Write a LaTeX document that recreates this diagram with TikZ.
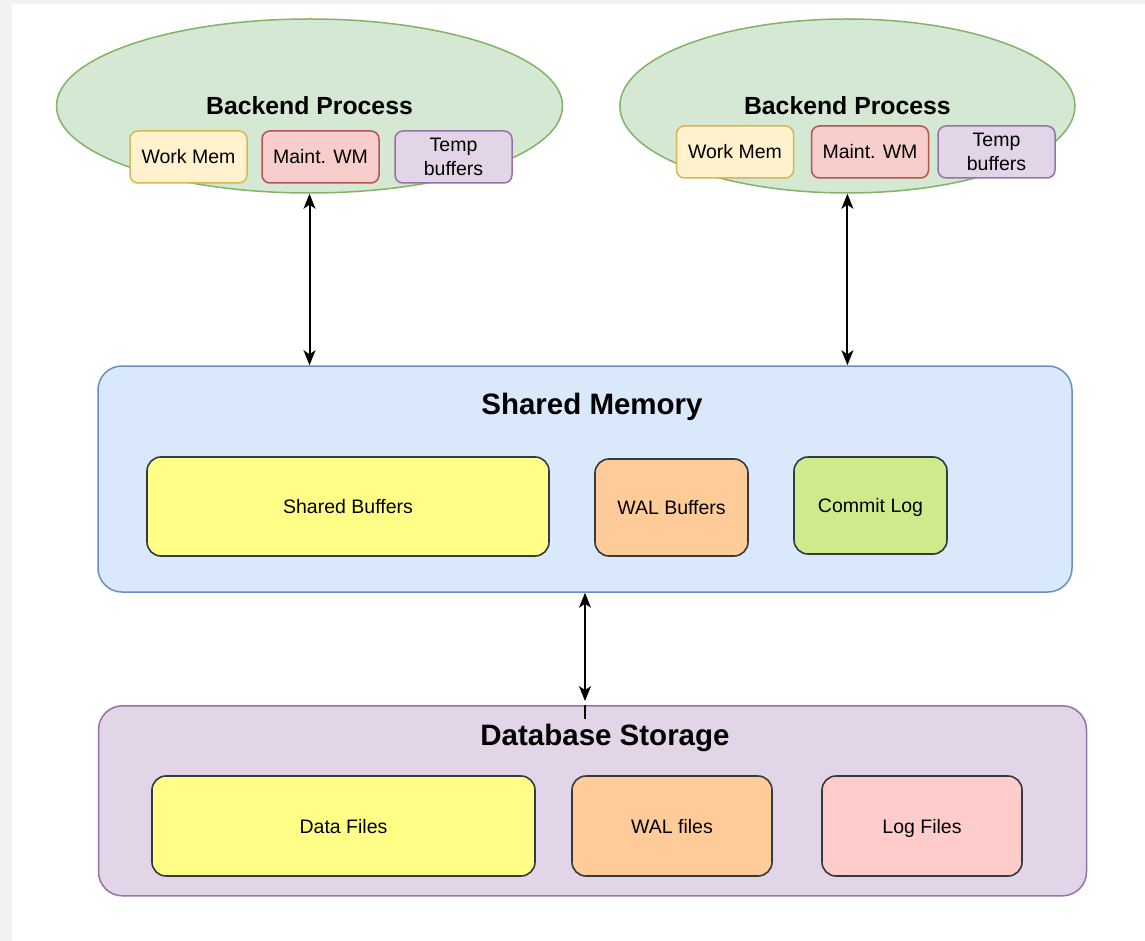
\documentclass[tikz,border=0pt]{standalone}
\usepackage{fontspec}
\setmainfont{Liberation Sans}
\usetikzlibrary{shapes.geometric,arrows.meta}

\definecolor{pagegray}{HTML}{F1F3F3}
\definecolor{procfill}{HTML}{D5E8D4}
\definecolor{procline}{HTML}{82B366}
\definecolor{wmfill}{HTML}{FFF2CC}
\definecolor{wmline}{HTML}{D6B656}
\definecolor{mwfill}{HTML}{F8CECC}
\definecolor{mwline}{HTML}{B85450}
\definecolor{tbfill}{HTML}{E1D5E7}
\definecolor{tbline}{HTML}{9673A6}
\definecolor{smfill}{HTML}{DAE8FC}
\definecolor{smline}{HTML}{6C8EBF}
\definecolor{dsfill}{HTML}{E1D5E7}
\definecolor{dsline}{HTML}{9673A6}
\definecolor{yelfill}{HTML}{FFFF88}
\definecolor{orgfill}{HTML}{FFCC99}
\definecolor{grnfill}{HTML}{CDEB8B}
\definecolor{pnkfill}{HTML}{FFCCCC}
\definecolor{darkline}{HTML}{36393D}

\tikzset{
  proc/.style={ellipse, draw=procline, fill=procfill, line width=1.5pt,
    inner sep=0pt, text height=17.8pt, text depth=0pt,
    font=\bfseries\fontsize{24.8}{30}\selectfont},
  smallbox/.style={rectangle, rounded corners=8pt, line width=1.5pt,
    inner sep=0pt, minimum width=117pt, minimum height=52pt,
    font=\fontsize{19.5}{23.5}\selectfont},
  onelabel/.style={text height=14pt, text depth=0pt},
  region/.style={rectangle, rounded corners=24pt, line width=1.5pt, inner sep=0pt},
  part/.style={rectangle, rounded corners=14pt, draw=darkline, line width=1.6pt,
    inner sep=0pt, text height=14pt, text depth=0pt,
    font=\fontsize{19.5}{23.5}\selectfont},
  heading/.style={anchor=base, inner sep=0pt,
    font=\bfseries\fontsize{29.5}{35}\selectfont},
  link/.style={{Stealth[length=15pt,width=12pt,inset=4pt]}-{Stealth[length=15pt,width=12pt,inset=4pt]}, black}
}

\begin{document}
\begin{tikzpicture}[x=1pt,y=-1pt]
  % page background with its grey frame strip
  \fill[pagegray] (0,0) rectangle (1145,941);
  \fill[white] (12,4) rectangle (1145,941);
  \useasboundingbox (0,0) rectangle (1145,941);

  % left backend process
  \node[proc, minimum width=506pt, minimum height=174pt] (lp) at (309.5,106) {Backend Process};
  \node[smallbox, onelabel, fill=wmfill, draw=wmline] (lwm) at (188.5,157) {Work Mem};
  \node[smallbox, onelabel, fill=mwfill, draw=mwline] (lmw) at (320.5,157) {Maint. WM};
  \node[smallbox, align=center, fill=tbfill, draw=tbline] (ltb) at (453.5,157) {Temp\\buffers};

  % right backend process
  \node[proc, minimum width=455pt, minimum height=174pt] (rp) at (847.4,106) {Backend Process};
  \node[smallbox, onelabel, fill=wmfill, draw=wmline] (rwm) at (735,152) {Work Mem};
  \node[smallbox, onelabel, fill=mwfill, draw=mwline] (rmw) at (870,152) {Maint. WM};
  \node[smallbox, align=center, fill=tbfill, draw=tbline] (rtb) at (996.5,152) {Temp\\buffers};

  % shared memory
  \node[region, fill=smfill, draw=smline, minimum width=974pt, minimum height=226pt] (sm) at (585,479) {};
  \node[heading] (smt) at (592,414) {Shared Memory};
  \node[part, fill=yelfill, minimum width=402pt, minimum height=99pt] (sb) at (348,506.5) {Shared Buffers};
  \node[part, fill=orgfill, minimum width=153pt, minimum height=97pt] (wb) at (671.5,507.5) {WAL Buffers};
  \node[part, fill=grnfill, minimum width=153pt, minimum height=97pt] (cl) at (870.5,505.5) {Commit Log};

  % database storage
  \node[region, fill=dsfill, draw=dsline, minimum width=988pt, minimum height=190pt] (ds) at (592.5,800.8) {};
  \node[heading] (dst) at (605,745.7) {Database Storage};
  \node[part, fill=yelfill, minimum width=383pt, minimum height=100pt] (df) at (343.5,826) {Data Files};
  \node[part, fill=orgfill, minimum width=200pt, minimum height=100pt] (wf) at (672,826) {WAL files};
  \node[part, fill=pnkfill, minimum width=200pt, minimum height=100pt] (lf) at (922,826) {Log Files};

  % connectors
  \draw[link, line width=2pt] (lp.south) -- (lp.south |- sm.north);
  \draw[link, line width=2pt] (rp.south) -- (rp.south |- sm.north);
  \coordinate (dsin) at ([yshift=-14pt]sm.south |- ds.north);
  \draw[link, line width=1.5pt, shorten >=4pt] (sm.south) -- (sm.south |- ds.north);
  \draw[line width=1.5pt] (sm.south |- ds.north) -- (dsin);
\end{tikzpicture}
\end{document}
